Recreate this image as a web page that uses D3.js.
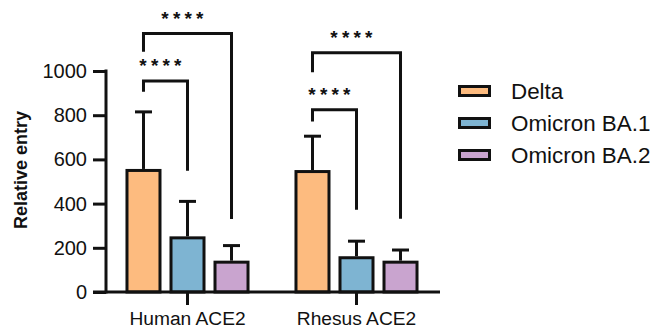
<!DOCTYPE html>
<html>
<head>
<meta charset="utf-8">
<script src="https://cdn.jsdelivr.net/npm/d3@7"></script>
<style>
  html, body { margin: 0; padding: 0; background: #fff; }
  svg { display: block; font-family: "Liberation Sans", Arial, sans-serif; }
</style>
</head>
<body>
<svg id="chart" width="654" height="333"></svg>
<script>
// ---- data ----
const groups = ["Human ACE2", "Rhesus ACE2"];
const series = ["Delta", "Omicron BA.1", "Omicron BA.2"];
const deltaMean = [550, 545];
const deltaErr  = [815, 705];
const ba1Mean   = [245, 155];
const ba1Err    = [410, 230];
const ba2Mean   = [135, 135];
const ba2Err    = [210, 190];
const yTicks = [0, 200, 400, 600, 800, 1000];
const colors = ["#FDBB7F", "#7EB4D2", "#C9A4CF"];
// significance brackets: group, from series, to series, top value, left-leg end, right-leg end, label
const sigGroup = ["Human ACE2", "Human ACE2", "Rhesus ACE2", "Rhesus ACE2"];
const sigFrom  = ["Delta", "Delta", "Delta", "Delta"];
const sigTo    = ["Omicron BA.1", "Omicron BA.2", "Omicron BA.1", "Omicron BA.2"];
const sigTop   = [955, 1170, 825, 1083];
const sigLeft  = [906, 1087, 772, 994];
const sigRight = [549, 330, 372, 332];
const sigLabel = ["****", "****", "****", "****"];

const means = [deltaMean, ba1Mean, ba2Mean];
const errs  = [deltaErr, ba1Err, ba2Err];
const data = [];
groups.forEach((g, gi) => series.forEach((s, si) => {
  data.push({group: g, series: s, mean: means[si][gi], err: errs[si][gi], color: colors[si]});
}));

// ---- layout ----
const svg = d3.select("#chart");
const y = d3.scaleLinear().domain([0, 1000]).range([292, 71]);
const x0 = d3.scaleBand().domain(groups).range([103, 441]);
const x1 = d3.scaleBand().domain(series).range([0, x0.bandwidth()])
  .paddingInner(0.25).paddingOuter(0.545);
const cx = (g, s) => x0(g) + x1(s) + x1.bandwidth() / 2;
const ink = "#111";

// bars
svg.append("g").selectAll("rect").data(data).join("rect")
  .attr("x", d => x0(d.group) + x1(d.series))
  .attr("y", d => y(d.mean))
  .attr("width", x1.bandwidth())
  .attr("height", d => y(0) - y(d.mean))
  .attr("fill", d => d.color)
  .attr("stroke", ink)
  .attr("stroke-width", 3);

// error bars
const eb = svg.append("g").attr("stroke", ink).attr("stroke-width", 3);
eb.selectAll("line.v").data(data).join("line").attr("class", "v")
  .attr("x1", d => cx(d.group, d.series)).attr("x2", d => cx(d.group, d.series))
  .attr("y1", d => y(d.mean) - 1.5).attr("y2", d => y(d.err));
eb.selectAll("line.c").data(data).join("line").attr("class", "c")
  .attr("x1", d => cx(d.group, d.series) - 8.5).attr("x2", d => cx(d.group, d.series) + 8.5)
  .attr("y1", d => y(d.err)).attr("y2", d => y(d.err));

// y axis
const yAxis = svg.append("g").attr("transform", "translate(106,0)")
  .call(d3.axisLeft(y).tickValues(yTicks).tickSize(13).tickPadding(6).tickFormat(d3.format("d")));
yAxis.select(".domain").remove();
yAxis.selectAll(".tick line").attr("stroke", ink).attr("stroke-width", 3);
yAxis.selectAll(".tick text").attr("fill", ink).style("font-size", "20px")
  .style("font-family", "'Liberation Sans', Arial, sans-serif");
svg.append("line").attr("x1", 106).attr("x2", 106).attr("y1", y(1000) - 1.5).attr("y2", y(0) + 1.5)
  .attr("stroke", ink).attr("stroke-width", 3);

// x axis
svg.append("line").attr("x1", 93).attr("x2", 440).attr("y1", y(0)).attr("y2", y(0))
  .attr("stroke", ink).attr("stroke-width", 3);
const xAxis = svg.append("g").attr("transform", `translate(0,${y(0)})`)
  .call(d3.axisBottom(x0).tickSize(13).tickPadding(6));
xAxis.select(".domain").remove();
xAxis.selectAll(".tick line").attr("stroke", ink).attr("stroke-width", 3);
xAxis.selectAll(".tick text").attr("fill", ink).style("font-size", "19.2px")
  .style("font-family", "'Liberation Sans', Arial, sans-serif");

// y title
svg.append("text")
  .attr("transform", "translate(27,170) rotate(-90)")
  .attr("text-anchor", "middle")
  .attr("fill", ink)
  .style("font-size", "18px").style("font-weight", "bold")
  .text("Relative entry");

// significance brackets
const br = svg.append("g");
sigGroup.forEach((g, i) => {
  const xl = cx(g, sigFrom[i]), xr = cx(g, sigTo[i]);
  br.append("path")
    .attr("d", `M${xl},${y(sigLeft[i])}V${y(sigTop[i])}H${xr}V${y(sigRight[i])}`)
    .attr("fill", "none").attr("stroke", ink).attr("stroke-width", 3)
    .attr("stroke-linejoin", "miter");
  br.append("text")
    .attr("x", (xl + xr) / 2 - 3)
    .attr("y", y(sigTop[i]) - 8.5)
    .attr("text-anchor", "middle")
    .attr("fill", ink)
    .style("font-size", "19px").style("font-weight", "bold")
    .style("letter-spacing", "4.2px")
    .text(sigLabel[i]);
});

// legend
const lg = svg.append("g");
const ly = d3.scalePoint().domain(series).range([91, 155]);
series.forEach((s, i) => {
  lg.append("rect").attr("x", 459.5).attr("y", ly(s) - 4.5).attr("width", 30).attr("height", 9)
    .attr("fill", colors[i]).attr("stroke", ink).attr("stroke-width", 3);
  lg.append("text").attr("x", 511).attr("y", ly(s) + 8)
    .attr("fill", ink).style("font-size", "22.4px").text(s);
});
</script>
</body>
</html>
